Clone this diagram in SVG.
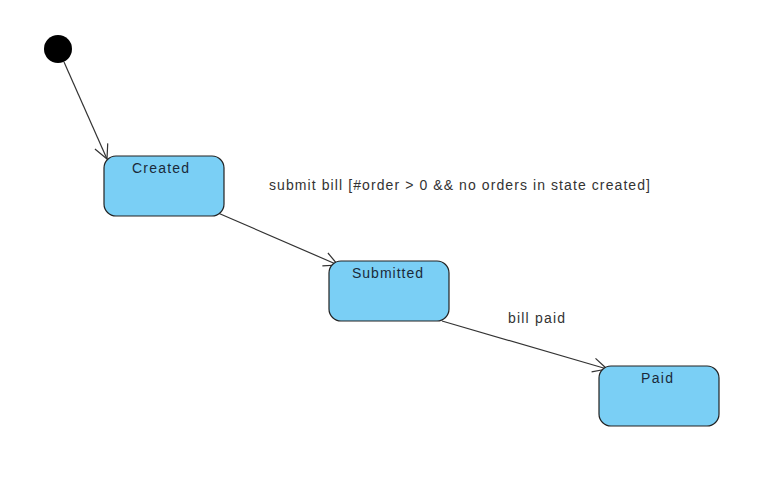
<svg xmlns="http://www.w3.org/2000/svg" width="768" height="499" viewBox="0 0 768 499">
<defs>
<style>
.state{fill:#7ACFF5;stroke:#222;stroke-width:1.2}
.name{font-family:"Liberation Sans",Arial,sans-serif;font-size:14px;fill:#1a2a3a}
.lbl{font-family:"Liberation Sans",Arial,sans-serif;font-size:14px;fill:#333}
.edge{fill:none;stroke:#333;stroke-width:1.2}
</style>
<marker id="open" viewBox="0 0 16 16" refX="15" refY="8" markerWidth="16" markerHeight="16" markerUnits="userSpaceOnUse" orient="auto">
<path d="M1,1 L15,8 L1,15" fill="none" stroke="#333" stroke-width="1.2"/>
</marker>
</defs>
<rect width="768" height="499" fill="#fff"/>
<g id="edges">
<line class="edge" x1="64" y1="62" x2="107" y2="159" marker-end="url(#open)"/>
<line class="edge" x1="218" y1="213" x2="338" y2="265" marker-end="url(#open)"/>
<line class="edge" x1="442" y1="321" x2="607" y2="369" marker-end="url(#open)"/>
<text class="lbl" x="269" y="190" textLength="381" lengthAdjust="spacing">submit bill [#order &gt; 0 &amp;&amp; no orders in state created]</text>
<text class="lbl" x="508" y="323" textLength="57" lengthAdjust="spacing">bill paid</text>
</g>
<g id="initial"><circle cx="58" cy="49" r="14" fill="#000"/></g>
<g id="created"><rect class="state" x="104" y="156" width="120" height="60" rx="12"/><text class="name" x="132" y="173" textLength="57" lengthAdjust="spacing">Created</text></g>
<g id="submitted"><rect class="state" x="329" y="261" width="120" height="60" rx="12"/><text class="name" x="352" y="278" textLength="71" lengthAdjust="spacing">Submitted</text></g>
<g id="paid"><rect class="state" x="599" y="366" width="120" height="60" rx="12"/><text class="name" x="641" y="383" textLength="32" lengthAdjust="spacing">Paid</text></g>
</svg>
